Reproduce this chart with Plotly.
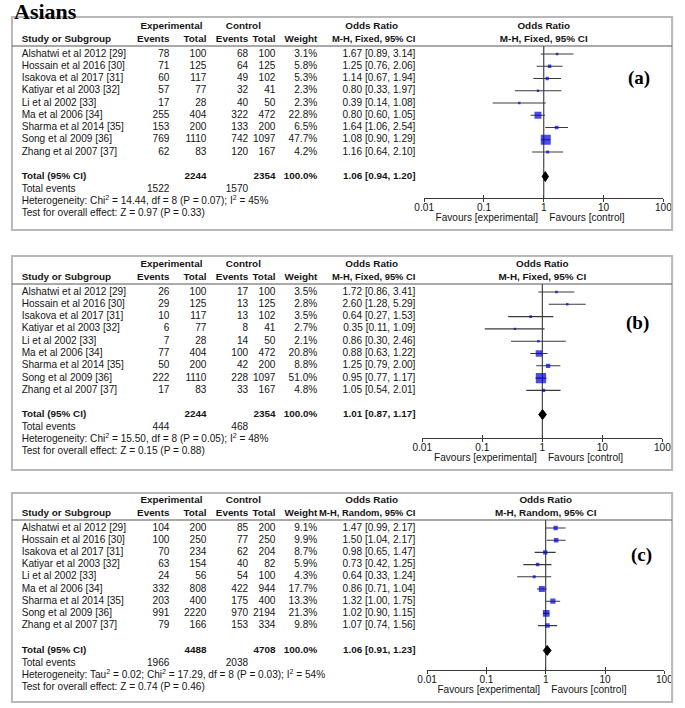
import math
import plotly.graph_objects as go

W, H = 685, 708

# ---------------- data ----------------
studies = ["Alshatwi et al 2012 [29]", "Hossain et al 2016 [30]", "Isakova et al 2017 [31]",
           "Katiyar et al 2003 [32]", "Li et al 2002 [33]", "Ma et al 2006 [34]",
           "Sharma et al 2014 [35]", "Song et al 2009 [36]", "Zhang et al 2007 [37]"]
tick_vals = [0.01, 0.1, 1, 10, 100]
tick_text = ["0.01", "0.1", "1", "10", "100"]
null_or = 1

# panel (a)
a_exp_events = [78, 71, 60, 57, 17, 255, 153, 769, 62]
a_exp_total = [100, 125, 117, 77, 28, 404, 200, 1110, 83]
a_ctrl_events = [68, 64, 49, 32, 40, 322, 133, 742, 120]
a_ctrl_total = [100, 125, 102, 41, 50, 472, 200, 1097, 167]
a_weight = [3.1, 5.8, 5.3, 2.3, 2.3, 22.8, 6.5, 47.7, 4.2]
a_or = [1.67, 1.25, 1.14, 0.80, 0.39, 0.80, 1.64, 1.08, 1.16]
a_lo = [0.89, 0.76, 0.67, 0.33, 0.14, 0.60, 1.06, 0.90, 0.64]
a_hi = [3.14, 2.06, 1.94, 1.97, 1.08, 1.05, 2.54, 1.29, 2.10]
a_sum_totals = [2244, 2354]
a_sum_events = [1522, 1570]
a_pooled = [1.06, 0.94, 1.20]
a_het = "Heterogeneity: Chi<sup>2</sup> = 14.44, df = 8 (P = 0.07); I<sup>2</sup> = 45%"
a_test = "Test for overall effect: Z = 0.97 (P = 0.33)"

# panel (b)
b_exp_events = [26, 29, 10, 6, 7, 77, 50, 222, 17]
b_exp_total = [100, 125, 117, 77, 28, 404, 200, 1110, 83]
b_ctrl_events = [17, 13, 13, 8, 14, 100, 42, 228, 33]
b_ctrl_total = [100, 125, 102, 41, 50, 472, 200, 1097, 167]
b_weight = [3.5, 2.8, 3.5, 2.7, 2.1, 20.8, 8.8, 51.0, 4.8]
b_or = [1.72, 2.60, 0.64, 0.35, 0.86, 0.88, 1.25, 0.95, 1.05]
b_lo = [0.86, 1.28, 0.27, 0.11, 0.30, 0.63, 0.79, 0.77, 0.54]
b_hi = [3.41, 5.29, 1.53, 1.09, 2.46, 1.22, 2.00, 1.17, 2.01]
b_sum_totals = [2244, 2354]
b_sum_events = [444, 468]
b_pooled = [1.01, 0.87, 1.17]
b_het = "Heterogeneity: Chi<sup>2</sup> = 15.50, df = 8 (P = 0.05); I<sup>2</sup> = 48%"
b_test = "Test for overall effect: Z = 0.15 (P = 0.88)"

# panel (c)
c_exp_events = [104, 100, 70, 63, 24, 332, 203, 991, 79]
c_exp_total = [200, 250, 234, 154, 56, 808, 400, 2220, 166]
c_ctrl_events = [85, 77, 62, 40, 54, 422, 175, 970, 153]
c_ctrl_total = [200, 250, 204, 82, 100, 944, 400, 2194, 334]
c_weight = [9.1, 9.9, 8.7, 5.9, 4.3, 17.7, 13.3, 21.3, 9.8]
c_or = [1.47, 1.50, 0.98, 0.73, 0.64, 0.86, 1.32, 1.02, 1.07]
c_lo = [0.99, 1.04, 0.65, 0.42, 0.33, 0.71, 1.00, 0.90, 0.74]
c_hi = [2.17, 2.17, 1.47, 1.25, 1.24, 1.04, 1.75, 1.15, 1.56]
c_sum_totals = [4488, 4708]
c_sum_events = [1966, 2038]
c_pooled = [1.06, 0.91, 1.23]
c_het = ("Heterogeneity: Tau<sup>2</sup> = 0.02; Chi<sup>2</sup> = 17.29, df = 8 (P = 0.03); "
         "I<sup>2</sup> = 54%")
c_test = "Test for overall effect: Z = 0.74 (P = 0.46)"

panels = [
    dict(label="(a)", method="M-H, Fixed, 95% CI", ee=a_exp_events, et=a_exp_total,
         ce=a_ctrl_events, ct=a_ctrl_total, w=a_weight, orr=a_or, lo=a_lo, hi=a_hi,
         tot=a_sum_totals, ev=a_sum_events, pooled=a_pooled, het=a_het, test=a_test),
    dict(label="(b)", method="M-H, Fixed, 95% CI", ee=b_exp_events, et=b_exp_total,
         ce=b_ctrl_events, ct=b_ctrl_total, w=b_weight, orr=b_or, lo=b_lo, hi=b_hi,
         tot=b_sum_totals, ev=b_sum_events, pooled=b_pooled, het=b_het, test=b_test),
    dict(label="(c)", method="M-H, Random, 95% CI", ee=c_exp_events, et=c_exp_total,
         ce=c_ctrl_events, ct=c_ctrl_total, w=c_weight, orr=c_or, lo=c_lo, hi=c_hi,
         tot=c_sum_totals, ev=c_sum_events, pooled=c_pooled, het=c_het, test=c_test),
]

# ---------------- layout geometry (pixels) ----------------
geoms = [
    dict(top=17, bottom=230, r0=54, step=12.25, axis=198, fx0=426, fx1=672, lab=(647, 78)),
    dict(top=256, bottom=470, r0=292, step=12.3, axis=438, fx0=424, fx1=671, lab=(645, 323)),
    dict(top=493, bottom=702, r0=528, step=12.2, axis=670, fx0=429, fx1=673, lab=(650, 555)),
]
cols = dict(study=12, ee=164, et=202, ce=245, ct=273, wt=316, orr=417,
            exp_c=166, ctl_c=240, or_c=372)
BOX_L, BOX_R = 2, 681

FONT = "Liberation Sans, Arial, Helvetica, sans-serif"
SERIF = "Liberation Serif, Times New Roman, serif"
TXT = "#151515"
LINE = "#3a3a3a"
BLUE = "rgb(0,0,215)"
FS = 10.1
FSB = 9.9
FSM = 9.4

fig = go.Figure()
layout = dict(width=W, height=H, margin=dict(l=0, r=0, t=0, b=0),
              paper_bgcolor="white", plot_bgcolor="rgba(0,0,0,0)", showlegend=False)
layout["xaxis"] = dict(domain=[0, 1], range=[0, W], visible=False, fixedrange=True, anchor="y")
shapes, annotations = [], []


def ptxt(xs, ys, texts, pos, xa, ya, size=FS):
    return go.Scatter(x=xs, y=ys, text=texts, mode="text", textposition=pos,
                      textfont=dict(family=FONT, size=size, color=TXT), xaxis=xa, yaxis=ya,
                      hoverinfo="skip", showlegend=False, cliponaxis=False)


def fmt_or(o, l, h):
    return f"{o:.2f} [{l:.2f}, {h:.2f}]"


for k, (p, g) in enumerate(zip(panels, geoms)):
    ya = "y" if k == 0 else f"y{k + 1}"
    yname = "yaxis" if k == 0 else f"yaxis{k + 1}"
    fx = f"x{k + 2}"
    fxo = f"x{k + 5}"

    def row(px, g=g):
        return (px - g["r0"]) / g["step"]

    layout[yname] = dict(domain=[1 - g["bottom"] / H, 1 - g["top"] / H],
                         range=[row(g["bottom"]), row(g["top"])], visible=False,
                         fixedrange=True, anchor="x")
    axis_common = dict(type="log", range=[-2, 2], anchor="free", position=1 - g["axis"] / H,
                       showgrid=False, zeroline=False, fixedrange=True, tickvals=tick_vals,
                       tickcolor=LINE, tickwidth=1)
    layout[f"xaxis{k + 2}"] = dict(axis_common, domain=[g["fx0"] / W, g["fx1"] / W],
                                   showline=True, linecolor=LINE, linewidth=1,
                                   ticks="inside", ticklen=3, ticktext=tick_text,
                                   tickfont=dict(family=FONT, size=FS, color=TXT))
    layout[f"xaxis{k + 5}"] = dict(axis_common, overlaying=fx, ticks="outside", ticklen=3,
                                   showticklabels=False, showline=False)

    n = len(studies)
    rows = list(range(n))
    h1, h2 = row(g["r0"] - 27.5), row(g["r0"] - 14)
    r_tot = row(g["r0"] + 122.5)
    r_ev, r_het, r_test = row(g["r0"] + 135), row(g["r0"] + 147.5), row(g["r0"] + 159.5)
    r_axis = row(g["axis"])
    r_under = row(g["r0"] - 8)
    r_fav = row(g["axis"] + 20.5)

    # headers
    fig.add_trace(ptxt([cols["exp_c"], cols["ctl_c"], cols["or_c"]], [h1] * 3,
                       ["<b>Experimental</b>", "<b>Control</b>", "<b>Odds Ratio</b>"],
                       "middle center", "x", ya, FSB))
    fig.add_trace(ptxt([cols["study"]], [h2], ["<b>Study or Subgroup</b>"], "middle right", "x", ya, FSB))
    fig.add_trace(ptxt([cols["ee"], cols["et"], cols["ce"], cols["ct"], cols["wt"]],
                       [h2] * 5,
                       ["<b>Events</b>", "<b>Total</b>", "<b>Events</b>", "<b>Total</b>",
                        "<b>Weight</b>"], "middle left", "x", ya, FSB))
    fig.add_trace(ptxt([cols["orr"]], [h2], [f"<b>{p['method']}</b>"], "middle left", "x", ya, FSM))
    fig.add_trace(ptxt([null_or, null_or], [h1, h2],
                       ["<b>Odds Ratio</b>", f"<b>{p['method']}</b>"], "middle center", fx, ya, FSB))

    # study rows
    fig.add_trace(ptxt([cols["study"]] * n, rows, studies, "middle right", "x", ya))
    for key in ["ee", "et", "ce", "ct"]:
        fig.add_trace(ptxt([cols[key]] * n, rows, [str(v) for v in p[key]], "middle left", "x", ya))
    fig.add_trace(ptxt([cols["wt"]] * n, rows, [f"{v:.1f}%" for v in p["w"]], "middle left", "x", ya))
    fig.add_trace(ptxt([cols["orr"]] * n, rows,
                       [fmt_or(o, l, h) for o, l, h in zip(p["orr"], p["lo"], p["hi"])],
                       "middle left", "x", ya))

    # total row
    fig.add_trace(ptxt([cols["study"]], [r_tot], ["<b>Total (95% CI)</b>"], "middle right", "x", ya, FSB))
    fig.add_trace(ptxt([cols["et"], cols["ct"], cols["wt"], cols["orr"]], [r_tot] * 4,
                       [f"<b>{p['tot'][0]}</b>", f"<b>{p['tot'][1]}</b>", "<b>100.0%</b>",
                        f"<b>{fmt_or(*p['pooled'])}</b>"], "middle left", "x", ya, FSB))
    fig.add_trace(ptxt([cols["study"]] * 3, [r_ev, r_het, r_test],
                       ["Total events", p["het"], p["test"]], "middle right", "x", ya))
    fig.add_trace(ptxt([cols["ee"], cols["ce"]], [r_ev] * 2,
                       [str(v) for v in p["ev"]], "middle left", "x", ya))

    # forest: null line
    fig.add_trace(go.Scatter(x=[null_or, null_or], y=[r_under, r_axis], mode="lines",
                             line=dict(color="#222", width=1), xaxis=fx, yaxis=ya,
                             hoverinfo="skip", showlegend=False))
    # CI lines
    cx, cy = [], []
    for i, (l, h) in enumerate(zip(p["lo"], p["hi"])):
        cx += [l, h, None]
        cy += [i, i, None]
    fig.add_trace(go.Scatter(x=cx, y=cy, mode="lines", line=dict(color=LINE, width=1.1),
                             xaxis=fx, yaxis=ya, hoverinfo="skip", showlegend=False))
    # squares
    fig.add_trace(go.Scatter(x=p["orr"], y=rows, mode="markers",
                             marker=dict(symbol="square", color=BLUE,
                                         size=[max(2.4, 1.45 * math.sqrt(w)) for w in p["w"]],
                                         line=dict(width=0)),
                             xaxis=fx, yaxis=ya, hoverinfo="skip", showlegend=False))
    # diamond
    est, lo, hi = p["pooled"]
    fig.add_trace(go.Scatter(x=[lo, est, hi, est, lo], y=[r_tot, r_tot - 0.4, r_tot, r_tot + 0.4, r_tot],
                             mode="lines", fill="toself", fillcolor="black",
                             line=dict(color="black", width=1), xaxis=fx, yaxis=ya,
                             hoverinfo="skip", showlegend=False))
    # overlay axis anchor trace (invisible)
    fig.add_trace(go.Scatter(x=[null_or], y=[r_axis], mode="markers", marker=dict(opacity=0),
                             xaxis=fxo, yaxis=ya, hoverinfo="skip", showlegend=False))
    # favours labels
    fig.add_trace(ptxt([null_or], [r_fav], ["Favours [experimental]  "], "middle left", fx, ya))
    fig.add_trace(ptxt([null_or], [r_fav], ["  Favours [control]"], "middle right", fx, ya))

    # box, header rule, panel label
    shapes.append(dict(type="rect", xref="paper", yref="paper", x0=BOX_L / W, x1=BOX_R / W,
                       y0=1 - g["bottom"] / H, y1=1 - g["top"] / H,
                       line=dict(color="#b8b8b8", width=2), fillcolor="rgba(0,0,0,0)"))
    uy = 1 - (g["r0"] - 8) / H
    shapes.append(dict(type="line", xref="paper", yref="paper", x0=BOX_L / W, x1=BOX_R / W,
                       y0=uy, y1=uy, line=dict(color="#555", width=1)))
    annotations.append(dict(text=f"<b>{p['label']}</b>", xref="paper", yref="paper",
                            x=g["lab"][0] / W, y=1 - g["lab"][1] / H, xanchor="center",
                            yanchor="middle", showarrow=False,
                            font=dict(family=SERIF, size=19, color="black")))

annotations.append(dict(text="<b>Asians</b>", xref="paper", yref="paper", x=2 / W, y=1 - 12 / H,
                        xanchor="left", yanchor="middle", showarrow=False,
                        font=dict(family=SERIF, size=22, color="black")))
layout["shapes"] = shapes
layout["annotations"] = annotations
fig.update_layout(**layout)
fig.write_html("out.html", config={"displayModeBar": False},
               post_script="document.body.style.margin='0';document.body.style.padding='0';")
